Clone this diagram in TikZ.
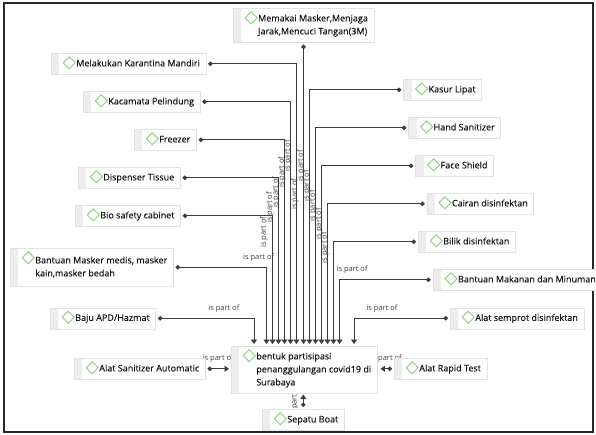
\documentclass[tikz,border=0pt]{standalone}
\usepackage{fontspec}
\setmainfont{Open Sans}
\newfontfamily\itemfont{Open Sans}[FakeBold=0.25]
\usetikzlibrary{arrows.meta,calc}
\definecolor{ink}{HTML}{141414}
\definecolor{wire}{HTML}{3C3C3C}
\definecolor{boxline}{HTML}{E2E2E2}
\definecolor{strip}{HTML}{EDEDED}
\definecolor{leaf}{HTML}{86CF74}
\pgfdeclarelayer{back}
\pgfsetlayers{back,main}
\newcommand{\itm}[1]{\begin{tabular}{@{\hspace{25pt}}l@{\hspace{6pt}}}#1\end{tabular}}
\tikzset{
	item/.style={draw=boxline, fill=white, line width=0.6pt, inner sep=0pt, inner ysep=4pt, anchor=north west, text=ink,
		font=\itemfont\fontsize{9}{13}\selectfont,
		path picture={
			\fill[strip] (path picture bounding box.north west) rectangle ([xshift=8pt]path picture bounding box.south west);
			\draw[leaf, line width=0.9pt] ([shift={(18pt,-9.5pt)}]path picture bounding box.north west) ++(-6pt,0) -- ++(6pt,6pt) -- ++(6pt,-6pt) -- ++(-6pt,-6pt) -- cycle;
		}},
	link/.style={draw=wire, line width=0.9pt, {Circle[length=4.5pt]}-{Triangle[length=4.5pt,width=6pt]}},
	hlab/.style={font=\fontsize{7.5}{9}\selectfont, text=wire, inner sep=1pt, anchor=south, yshift=5pt},
	vlab/.style={font=\fontsize{7.5}{9}\selectfont, text=wire, inner sep=1pt, xshift=-3.5pt, rotate=90, anchor=south}
}
\begin{document}
\begin{tikzpicture}[x=1pt, y=-1pt]
	\useasboundingbox (0,0) rectangle (596,435);
	\draw[line width=2pt, black!85] (4,3) rectangle (593,432);
	% centre
	\node[item] (goal) at (231,346) {\itm{bentuk partisipasi\\penanggulangan covid19 di\\Surabaya}};
	% top and left
	\node[item, anchor=north] (mem) at (303.5,8) {\itm{Memakai Masker,Menjaga\\Jarak,Mencuci Tangan(3M)}};
	\node[item] (mel) at (51,53) {\itm{Melakukan Karantina Mandiri}};
	\node[item] (kac) at (83,91) {\itm{Kacamata Pelindung}};
	\node[item] (frz) at (134,129) {\itm{Freezer}};
	\node[item] (disp) at (78,167) {\itm{Dispenser Tissue}};
	\node[item] (bio) at (75,205) {\itm{Bio safety cabinet}};
	\node[item, minimum height=38pt] (bmask) at (10,248) {\itm{Bantuan Masker medis, masker\\kain,masker bedah}};
	\node[item] (baju) at (50,307.5) {\itm{Baju APD/Hazmat}};
	\node[item] (sanit) at (74,358) {\itm{Alat Sanitizer Automatic}};
	% right
	\node[item] (kasur) at (403.3,79) {\itm{Kasur Lipat}};
	\node[item] (hand) at (408.3,117) {\itm{Hand Sanitizer}};
	\node[item] (face) at (415.3,155) {\itm{Face Shield}};
	\node[item] (cair) at (426.7,193) {\itm{Cairan disinfektan}};
	\node[item] (bilik) at (418,231) {\itm{Bilik disinfektan}};
	\node[item] (bmakan) at (432.7,269) {\itm{Bantuan Makanan dan Minuman}};
	\node[item] (semprot) at (450,307.5) {\itm{Alat semprot disinfektan}};
	\node[item] (rapid) at (394,358) {\itm{Alat Rapid Test}};
	% bottom
	\node[item] (boat) at (262,409) {\itm{Sepatu Boat}};
	\begin{pgfonlayer}{back}
		\draw[link] ([yshift=-2pt]mem.south) -- node[vlab,pos=.5]{is part of} ($(mem.south |- goal.north)+(0,2pt)$);
		\draw[link] ([xshift=2pt]mel.east) -| node[vlab,pos=.664]{is part of} ($(goal.north west)+(65.5pt,2pt)$);
		\draw[link] ([xshift=2pt]kac.east) -| node[vlab,pos=.645]{is part of} ($(goal.north west)+(59.5pt,2pt)$);
		\draw[link] ([xshift=2pt]frz.east) -| node[vlab,pos=.628]{is part of} ($(goal.north west)+(53.5pt,2pt)$);
		\draw[link] ([xshift=2pt]disp.east) -| node[vlab,pos=.589]{is part of} ($(goal.north west)+(47.5pt,2pt)$);
		\draw[link] ([xshift=2pt]bio.east) -| node[vlab,pos=.564]{is part of} ($(goal.north west)+(41.5pt,2pt)$);
		\draw[link] ([xshift=2pt]bmask.east) -| node[hlab,pos=.457]{is part of} ($(goal.north west)+(35.5pt,2pt)$);
		\draw[link] ([xshift=2pt]baju.east) -| node[hlab,pos=.343]{is part of} ($(goal.north west)+(23pt,2pt)$);
		\draw[link] ([xshift=-2pt]kasur.west) -| node[vlab,pos=.649]{is part of} ($(goal.north west)+(78.5pt,2pt)$);
		\draw[link] ([xshift=-2pt]hand.west) -| node[vlab,pos=.634]{is part of} ($(goal.north west)+(84.5pt,2pt)$);
		\draw[link] ([xshift=-2pt]face.west) -| node[vlab,pos=.612]{is part of} ($(goal.north west)+(90.5pt,2pt)$);
		\draw[link] ([xshift=-2pt]cair.west) -| node[vlab,pos=.571]{is part of} ($(goal.north west)+(96.5pt,2pt)$);
		\draw[link] ([xshift=-2pt]bilik.west) -| node[vlab,pos=.529]{is part of} ($(goal.north west)+(102.5pt,2pt)$);
		\draw[link] ([xshift=-2pt]bmakan.west) -| node[hlab,pos=.431]{is part of} ($(goal.north west)+(108.5pt,2pt)$);
		\draw[link] ([xshift=-2pt]semprot.west) -| node[hlab,pos=.351]{is part of} ($(goal.north west)+(123pt,2pt)$);
		\draw[link] ([xshift=2pt]sanit.east) -- node[hlab]{is part of} ($(goal.west |- sanit.east)+(-2pt,0)$);
		\draw[link] ([xshift=-2pt]rapid.west) -- node[hlab]{is part of} ($(goal.east |- rapid.west)+(3pt,0)$);
		\draw[link] ([yshift=2pt]boat.north) -- node[vlab]{is part of} ($(boat.north |- goal.south)+(0,-1pt)$);
	\end{pgfonlayer}
\end{tikzpicture}
\end{document}
